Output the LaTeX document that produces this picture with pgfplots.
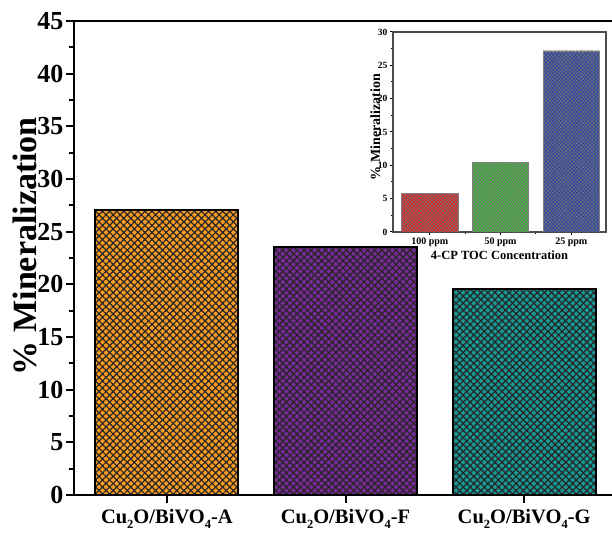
\documentclass[border=0pt]{standalone}
\usepackage{pgfplots}
\pgfplotsset{compat=1.18}
\usepackage{fontspec}
\setmainfont{Liberation Serif}
\usetikzlibrary{patterns.meta}
\definecolor{cA}{RGB}{248,155,35}
\definecolor{cF}{RGB}{122,42,152}
\definecolor{cG}{RGB}{24,152,146}
\definecolor{iR}{RGB}{225,35,35}
\definecolor{iG}{RGB}{65,185,60}
\definecolor{iB}{RGB}{45,70,165}
\newcommand\sub[1]{\raisebox{-0.55ex}{\fontsize{12.5bp}{13bp}\selectfont #1}}
\begin{document}
\begin{tikzpicture}[x=1bp,y=1bp]
\useasboundingbox (0,0) rectangle (612,533);
\begin{axis}[
  at={(74bp,38bp)}, anchor=south west, scale only axis,
  width=543bp, height=474bp,
  xmin=-0.52, xmax=2.52, ymin=0, ymax=45,
  xtick={0,1,2},
  xticklabels={Cu\sub{2}O/BiVO\sub{4}-A,Cu\sub{2}O/BiVO\sub{4}-F,Cu\sub{2}O/BiVO\sub{4}-G},
  ytick={0,5,...,45}, minor y tick num=1,
  xtick pos=bottom, ytick pos=left, tick align=outside,
  axis line style={line width=2.6bp},
  major tick length=8bp, minor tick length=5bp,
  every tick/.style={line width=2bp, black},
  /pgf/number format/assume math mode=true,
  yticklabel style={font=\fontsize{26bp}{30bp}\selectfont\bfseries, xshift=1bp},
  xticklabel style={font=\fontsize{20.5bp}{26bp}\selectfont\bfseries, yshift=-3bp},
  ylabel={\% Mineralization},
  every axis y label/.style={at={(axis description cs:0,0.525)}, rotate=90, anchor=base, yshift=38bp,
    font=\fontsize{34bp}{36bp}\selectfont\bfseries},
]
\addplot[ybar, bar shift=0pt, bar width=0.8, fill=cA, draw=black, line width=2bp,
  postaction={pattern={Hatch[angle=45,distance=5bp,line width=1.2bp]}, pattern color=black!85}]
  coordinates {(0,27.1)};
\addplot[ybar, bar shift=0pt, bar width=0.8, fill=cF, draw=black, line width=2bp,
  postaction={pattern={Hatch[angle=45,distance=5bp,line width=1.2bp]}, pattern color=black!85}]
  coordinates {(1,23.5)};
\addplot[ybar, bar shift=0pt, bar width=0.8, fill=cG, draw=black, line width=2bp,
  postaction={pattern={Hatch[angle=45,distance=5bp,line width=1.2bp]}, pattern color=black!85}]
  coordinates {(2,19.6)};
\end{axis}
\begin{axis}[
  at={(393bp,301bp)}, anchor=south west, scale only axis,
  width=213bp, height=200bp,
  axis background/.style={fill=white},
  xmin=-0.52, xmax=2.49, ymin=0, ymax=30,
  xtick={0,1,2}, xticklabels={100 ppm,50 ppm,25 ppm},
  minor xtick={0.5,1.5},
  ytick={0,5,...,30}, minor y tick num=1,
  xtick pos=bottom, ytick pos=left, tick align=outside,
  axis line style={line width=1.3bp, black!70},
  major tick length=3bp, minor tick length=2bp,
  every tick/.style={line width=1bp, black},
  /pgf/number format/assume math mode=true,
  yticklabel style={font=\fontsize{9.5bp}{11bp}\selectfont\bfseries, xshift=1bp},
  xticklabel style={font=\fontsize{10bp}{11bp}\selectfont\bfseries, yshift=1bp},
  ylabel={\% Mineralization},
  every axis y label/.style={at={(axis description cs:0,0.525)}, rotate=90, anchor=base, yshift=13bp,
    font=\fontsize{14bp}{15bp}\selectfont\bfseries},
  xlabel={4-CP TOC Concentration},
  every axis x label/.style={at={(ticklabel cs:0.5)}, anchor=north, yshift=2bp,
    font=\fontsize{12.5bp}{14bp}\selectfont\bfseries},
]
\addplot[ybar, bar shift=0pt, bar width=0.8, fill=iR, draw=black!50, line width=0.8bp,
  postaction={pattern={Hatch[angle=45,distance=2.6bp,line width=0.5bp]}, pattern color=black!55}]
  coordinates {(0,5.8)};
\addplot[ybar, bar shift=0pt, bar width=0.8, fill=iG, draw=black!50, line width=0.8bp,
  postaction={pattern={Hatch[angle=45,distance=2.6bp,line width=0.5bp]}, pattern color=black!55}]
  coordinates {(1,10.4)};
\addplot[ybar, bar shift=0pt, bar width=0.8, fill=iB, draw=black!50, line width=0.8bp,
  postaction={pattern={Hatch[angle=45,distance=2.6bp,line width=0.5bp]}, pattern color=black!55}]
  coordinates {(2,27.15)};
\end{axis}
\end{tikzpicture}
\end{document}
